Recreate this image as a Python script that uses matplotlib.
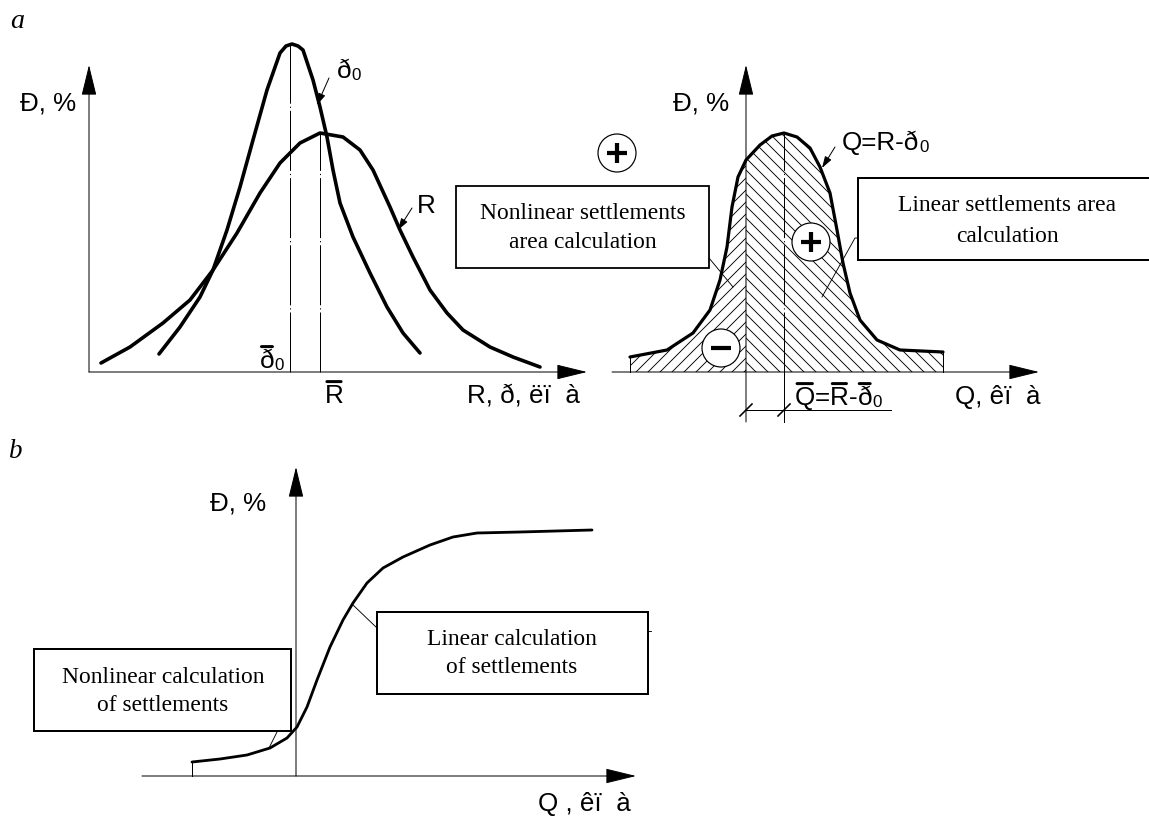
import numpy as np
import matplotlib
matplotlib.use("Agg")
import matplotlib.pyplot as plt
from matplotlib.patches import Polygon, Rectangle, Circle
from matplotlib.transforms import Affine2D

# ---- curve data (local units: x to the right of each panel's origin, y up) ----
# panel a, left: distribution of p0 (narrow) and R (wide)
p0_x = [70, 91, 111, 124, 138, 151, 164, 178, 191, 197, 203, 209, 214, 224, 231,
        238, 244, 251, 264, 281, 298, 314, 331]
p0_y = [18, 45, 75, 102, 142, 185, 232, 282, 319, 326, 328, 326, 322, 292, 265,
        235, 202, 169, 135, 99, 65, 39, 19]
r_x = [12, 41, 74, 101, 124, 148, 171, 191, 211, 231, 254, 271, 284, 301, 311,
       324, 341, 358, 374, 401, 424, 451]
r_y = [9, 25, 49, 72, 102, 139, 179, 209, 229, 239, 235, 222, 202, 165, 142,
       115, 82, 59, 42, 25, 15, 5]
p0_mean = 201
r_mean = 231

# panel a, right: Q = R - p0
q_x = [-116, -79, -53, -36, -26, -19, -14, -8, 0, 14, 26, 38, 51, 64, 74, 84,
       91, 97, 104, 114, 131, 154, 197]
q_y = [15, 22, 39, 62, 92, 125, 165, 195, 212, 227, 236, 239, 235, 224, 205,
       179, 142, 109, 79, 52, 32, 22, 20]
q_mean = 38

# panel b: cumulative curve
s_x = [-104, -76, -49, -26, -9, 1, 11, 21, 34, 47, 57, 71, 87, 107, 134, 157,
       181, 224, 296]
s_y = [14, 17, 21, 28, 38, 49, 69, 96, 129, 156, 173, 193, 208, 219, 231, 239,
       243, 244, 246]

box_font = "Liberation Serif"
plt.rcParams["font.family"] = ["Liberation Sans", "DejaVu Sans"]
plt.rcParams["hatch.linewidth"] = 0.9

W, H = 1149, 816
fig = plt.figure(figsize=(W / 72, H / 72), dpi=72)
ax = fig.add_axes([0, 0, 1, 1])
ax.set_xlim(0, W)
ax.set_ylim(H, 0)
ax.axis("off")

FS = 26


def panel(ox, oy):
    return Affine2D().scale(1, -1).translate(ox, oy) + ax.transData


def axis_arrow(x0, y0, x1, y1):
    ax.annotate("", xy=(x1, y1), xytext=(x0, y0),
                arrowprops=dict(arrowstyle="-|>,head_length=0.9,head_width=0.22",
                                mutation_scale=30, lw=1, color="k",
                                shrinkA=0, shrinkB=0))


def pointer(x0, y0, x1, y1):
    ax.annotate("", xy=(x1, y1), xytext=(x0, y0),
                arrowprops=dict(arrowstyle="-|>,head_length=0.7,head_width=0.22",
                                mutation_scale=14, lw=1, color="k",
                                shrinkA=0, shrinkB=0))


def rich(x, y, pieces, size=FS):
    # pieces: (text, relative size, overbar)
    prev = None
    for s, k, bar in pieces:
        if prev is None:
            t = ax.text(x, y, s, fontsize=size * k, ha="left", va="baseline")
        else:
            t = ax.annotate(s, xy=(1, 0), xycoords=prev, fontsize=size * k,
                            ha="left", va="bottom")
        if bar:
            ax.annotate("", xy=(0.1, 1.1), xycoords=t, xytext=(0.86, 1.1),
                        textcoords=t,
                        arrowprops=dict(arrowstyle="-", lw=3, color="k",
                                        shrinkA=0, shrinkB=0))
        prev = t


def box(x0, y0, x1, y1, lines, cx, baselines, lw=1.8):
    ax.add_patch(Rectangle((x0, y0), x1 - x0, y1 - y0, facecolor="white",
                           edgecolor="k", lw=lw, zorder=3, clip_on=False))
    for s, by in zip(lines, baselines):
        ax.text(cx, by, s, family=box_font, fontsize=23.5, ha="center",
                va="baseline", zorder=4)


def sign_circle(cx, cy, kind, r=19):
    ax.add_patch(Circle((cx, cy), r, facecolor="white", edgecolor="k", lw=1.2,
                        zorder=5))
    ax.plot([cx - 10, cx + 10], [cy, cy], color="k", lw=4.2,
            solid_capstyle="butt", zorder=6)
    if kind == "+":
        ax.plot([cx, cx], [cy - 10, cy + 10], color="k", lw=4.2,
                solid_capstyle="butt", zorder=6)


dashdot = (0, (60, 3, 1.2, 3))

# ================= panel a, left =================
tr1 = panel(89, 372)
axis_arrow(89, 372, 89, 65)
axis_arrow(89, 372, 587, 372)
ax.plot(p0_x, p0_y, color="k", lw=3.6, transform=tr1, solid_capstyle="round",
        solid_joinstyle="round")
ax.plot(r_x, r_y, color="k", lw=3.6, transform=tr1, solid_capstyle="round",
        solid_joinstyle="round")
ax.plot([p0_mean, p0_mean], [0, np.interp(p0_mean, p0_x, p0_y)], color="k",
        lw=1, ls=dashdot, transform=tr1)
ax.plot([r_mean, r_mean], [0, np.interp(r_mean, r_x, r_y)], color="k",
        lw=1, ls=dashdot, transform=tr1)

ax.text(10, 28, "a", family=box_font, style="italic", fontsize=28)
ax.text(20, 110, "Ð, %", fontsize=FS)
ax.text(467, 403, "R, ð, ëï  à", fontsize=FS)
rich(337, 78, [("ð", 1, False), ("0", 0.65, False)])
pointer(329, 78, 317, 105)
ax.text(417, 213, "R", fontsize=FS)
pointer(412, 208, 398, 230)
rich(260, 368, [("ð", 1, True), ("0", 0.65, False)])
rich(325, 403, [("R", 1, True)])

# ================= panel a, right =================
tr2 = panel(746, 372)
qx = np.array(q_x)
qy = np.array(q_y)
left = qx <= 0
right = qx >= 0
poly_l = np.column_stack([np.r_[qx[left], 0, qx[0]], np.r_[qy[left], 0, 0]])
poly_r = np.column_stack([np.r_[qx[right], qx[-1], 0], np.r_[qy[right], 0, 0]])
ax.add_patch(Polygon(poly_l, closed=True, facecolor="none", edgecolor="k",
                     lw=0, hatch="//", transform=tr2))
ax.add_patch(Polygon(poly_r, closed=True, facecolor="none", edgecolor="k",
                     lw=0, hatch="\\\\", transform=tr2))
ax.plot([qx[0], qx[0]], [0, qy[0]], color="k", lw=1, transform=tr2)
ax.plot([qx[-1], qx[-1]], [0, qy[-1]], color="k", lw=1, transform=tr2)
ax.plot(q_x, q_y, color="k", lw=3.2, transform=tr2, solid_capstyle="round",
        solid_joinstyle="round", zorder=4)
ax.plot([q_mean, q_mean], [0, np.interp(q_mean, q_x, q_y)], color="k",
        lw=1, ls=dashdot, transform=tr2)
ax.plot([q_mean, q_mean], [0, -50], color="k", lw=1, transform=tr2)

axis_arrow(746, 422, 746, 65)
axis_arrow(612, 372, 1039, 372)

# dimension line for the mean
ax.plot([745, 891], [410, 410], color="k", lw=1)
for xs in (746, 784):
    ax.plot([xs - 6, xs + 6], [416, 404], color="k", lw=1.6)

ax.text(673, 111, "Ð, %", fontsize=FS)
ax.text(955, 404, "Q, êï  à", fontsize=FS)
rich(842, 150, [("Q=R-ð", 1, False), ("0", 0.65, False)])
pointer(835, 147, 822, 168)
rich(795, 405, [("Q", 1, True), ("=", 1, False), ("R", 1, True), ("-", 1, False),
                ("ð", 1, True), ("0", 0.65, False)])

sign_circle(617, 153, "+")
sign_circle(811, 242, "+")
sign_circle(721, 348, "-")

box(456, 186, 709, 268, ["Nonlinear settlements", "area calculation"], 583,
    [219, 248])
box(858, 178, 1160, 260, ["Linear settlements area", "calculation"], 1007,
    [211, 242], lw=2)
ax.plot([709, 733], [258, 287], color="k", lw=0.9)
ax.plot([858, 855, 822], [238, 238, 297], color="k", lw=0.9)

# ================= panel b =================
tr3 = panel(296, 776)
axis_arrow(296, 776, 296, 467)
axis_arrow(142, 776, 636, 776)
ax.plot(s_x, s_y, color="k", lw=2.8, transform=tr3, solid_capstyle="round",
        solid_joinstyle="round")
ax.plot([s_x[0], s_x[0]], [0, s_y[0]], color="k", lw=1, transform=tr3)

ax.text(9, 458, "b", family=box_font, style="italic", fontsize=27)
ax.text(210, 511, "Ð, %", fontsize=FS)
ax.text(538, 811, "Q , êï  à", fontsize=FS)

box(34, 649, 291, 731, ["Nonlinear calculation", "of settlements"], 163,
    [683, 711], lw=2)
box(377, 612, 648, 694, ["Linear calculation", "of settlements"], 512,
    [645, 673], lw=2)
ax.plot([353, 377], [605, 628], color="k", lw=0.9)
ax.plot([277, 269], [732, 748], color="k", lw=0.9)
ax.plot([648, 651], [631, 631], color="k", lw=0.9)

fig.savefig("out.png", dpi=72, facecolor="white")
plt.close(fig)
